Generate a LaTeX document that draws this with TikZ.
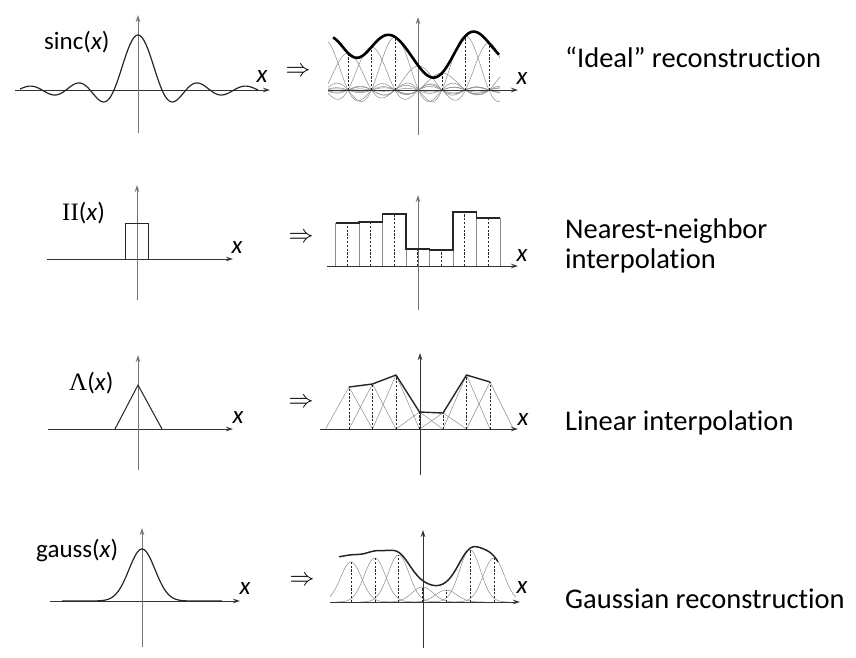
\documentclass[tikz,border=0pt]{standalone}
\usepackage{fontspec}
\setmainfont[Ligatures=NoCommon]{Carlito}
\newfontfamily\serifgr{Liberation Serif}
\usetikzlibrary{arrows.meta}
\begin{document}
\begin{tikzpicture}[x=1pt,y=-1pt,
  axis/.style={draw=black!80, line width=0.9pt, -{Stealth[length=7pt,width=4.5pt]}},
  vaxis/.style={draw=black!55, line width=1pt, -{Stealth[length=7pt,width=4.5pt]}},
  curve/.style={line width=1.2pt, draw=black!85},
  thick curve/.style={line width=2.6pt, draw=black, line join=round},
  graycurve/.style={draw=black!45, line width=0.5pt},
  samp/.style={draw=black!85, dash pattern=on 2.2pt off 1.6pt, line width=0.6pt},
  lbl/.style={font=\fontsize{25}{25}\selectfont, inner sep=0, anchor=base west},
  xl/.style={font=\fontsize{25}{25}\selectfont\itshape, inner sep=0},
  imp/.style={font=\fontsize{28}{28}\selectfont, inner sep=0},
  desc/.style={font=\fontsize{28.5}{34}\selectfont, inner sep=0, anchor=base west},
  declare function={snc(\t)=sin(180*(\t+0.0001))/(pi*(\t+0.0001));
    gs(\t,\s)=exp(-min(0.5*(\t/\s)*(\t/\s),20));}
]
\useasboundingbox (0,0) rectangle (856,658);

% ================= Row 1: sinc =================
\draw[axis] (15,90) -- (270,90);
\draw[vaxis] (138,133) -- (138,15);
\draw[curve] plot[domain=20:258, samples=240] (\x, {90-55*snc((\x-138)/24)});
\node[lbl] (l1) at (44,50) {sinc(\textit{x})};
\node[xl] (x1a) at (262,77) {x};
\node[imp] (i1) at (298,72) {$\Rightarrow$};

% right
\foreach \c/\v in {324.5/50, 348/37, 371.5/43, 395/53, 418.5/24, 442/17, 465.5/54, 489/47, 512.5/22}
  \draw[graycurve] plot[domain=328:500, samples=120] (\x, {90-\v*snc((\x-\c)/23.5)});
\foreach \c/\v in {348/37, 371.5/43, 395/53, 418.5/24, 442/17, 465.5/54, 489/47}
  \draw[samp] (\c,90) -- (\c,90-\v);
\draw[axis] (328,90) -- (518,90);
\draw[vaxis] (418,135) -- (418,17);
\draw[thick curve] plot[domain=333:499, samples=170] (\x, {90-(50*snc((\x-324.5)/23.5)+37*snc((\x-348)/23.5)+43*snc((\x-371.5)/23.5)+53*snc((\x-395)/23.5)+24*snc((\x-418.5)/23.5)+17*snc((\x-442)/23.5)+54*snc((\x-465.5)/23.5)+47*snc((\x-489)/23.5)+22*snc((\x-512.5)/23.5))});
\node[xl] (x1b) at (522,79) {x};
\node[desc] (t1) at (565,68) {“Ideal” reconstruction};

% ================= Row 2: box =================
\draw[axis] (47,259) -- (233,259);
\draw[vaxis] (137,300) -- (137,185);
\draw[curve, line width=1pt] (125,259) -- (125,223) -- (148,223) -- (148,259);
\node[lbl] (l2) at (62,220) {{\serifgr II}(\textit{x})};
\node[xl] (x2a) at (237,248) {x};
\node[imp] (i2) at (301,238) {$\Rightarrow$};

% right
\foreach \a/\b/\t in {335.5/359/223, 359/382.5/222, 382.5/406/214, 406/429.5/249, 429.5/453/250, 453/476.5/212, 476.5/500/218}
  \draw[graycurve, line width=0.6pt] (\a,266) rectangle (\b,\t);
\foreach \a/\t in {335.5/223, 359/222, 382.5/214, 406/249, 429.5/250, 453/212, 476.5/218}
  \draw[samp] (\a+11.75,266) -- (\a+11.75,\t);
\draw[axis] (327,266) -- (518,266);
\draw[vaxis] (418,310) -- (418,195);
\draw[curve, line width=1.4pt] (335.5,223) -- (359,223) -- (359,222) -- (382.5,222) -- (382.5,214) -- (406,214) -- (406,249) -- (429.5,249) -- (429.5,250) -- (453,250) -- (453,212) -- (476.5,212) -- (476.5,218) -- (500,218);
\node[xl] (x2b) at (522,256) {x};
\node[desc] (t2a) at (565,238) {Nearest-neighbor};
\node[desc] (t2b) at (565,268) {interpolation};

% ================= Row 3: triangle =================
\draw[axis] (48,429) -- (233,429);
\draw[vaxis] (138,470) -- (138,355);
\draw[curve, line width=1pt] (115,429) -- (138,385) -- (162,429);
\node[lbl] (l3) at (69,390) {{\serifgr Λ}(\textit{x})};
\node[xl] (x3a) at (238,418) {x};
\node[imp] (i3) at (301,403) {$\Rightarrow$};

% right
\foreach \c/\t in {349/387, 372.5/384, 396/375, 419.5/412, 443/413, 466.5/375, 490/382}
  \draw[graycurve] (\c-23.5,429) -- (\c,\t) -- (\c+23.5,429);
\foreach \c/\t in {349/387, 372.5/384, 396/375, 419.5/412, 443/413, 466.5/375, 490/382}
  \draw[samp] (\c,429) -- (\c,\t);
\draw[axis] (320,429) -- (518,429);
\draw[axis] (420,475) -- (420,353);
\draw[curve, line width=1.4pt, line join=round] (349,387) -- (372.5,384) -- (396,375) -- (419.5,412) -- (443,413) -- (466.5,375) -- (490,382);
\node[xl] (x3b) at (523,420) {x};
\node[desc] (t3) at (565,430) {Linear interpolation};

% ================= Row 4: gauss =================
\draw[axis] (50,601) -- (240,601);
\draw[vaxis] (142,647) -- (142,528);
\draw[curve] plot[domain=62:222, samples=160] (\x, {601-52*gs(\x-142,13)});
\node[lbl] (l4) at (36,557) {gauss(\textit{x})};
\node[xl] (x4a) at (245,589) {x};
\node[imp] (i4) at (302,581) {$\Rightarrow$};

% right
\foreach \c/\v in {351/40, 374.8/44, 398.6/47, 422.4/15, 446.2/12, 470/52, 493.8/44}
  \draw[graycurve] plot[domain={max(\c-38,330)}:{min(\c+38,516)}, samples=70] (\x, {602-\v*gs(\x-\c,10.5)});
\foreach \c/\v in {351/40, 374.8/44, 398.6/47, 422.4/15, 446.2/12, 470/52, 493.8/44}
  \draw[samp] (\c,602) -- (\c,602-\v);
\draw[axis] (330,602) -- (520,602);
\draw[axis] (423,648) -- (423,530);
\draw[curve, line width=1.5pt] plot[domain=339:498, samples=160] (\x, {602-(40*gs(\x-327.2,12.5)+40*gs(\x-351,12.5)+44*gs(\x-374.8,12.5)+47*gs(\x-398.6,12.5)+15*gs(\x-422.4,12.5)+12*gs(\x-446.2,12.5)+52*gs(\x-470,12.5)+44*gs(\x-493.8,12.5))/1.14});
\node[xl] (x4b) at (522,588) {x};
\node[desc] (t4) at (565,608) {Gaussian reconstruction};
\end{tikzpicture}
\end{document}
